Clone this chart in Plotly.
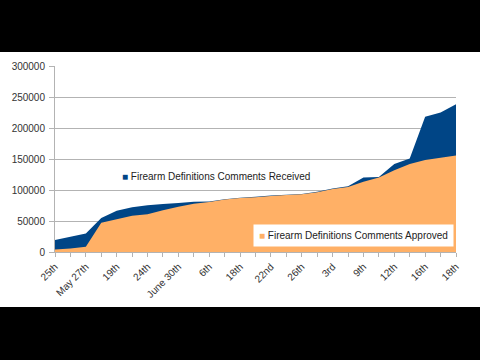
import plotly.graph_objects as go

# 27 reporting points; every other one is labelled on the axis
x_index = list(range(27))
tick_labels = ["25th", "May 27th", "19th", "24th", "June 30th", "6th", "18th",
               "22nd", "26th", "3rd", "9th", "12th", "16th", "18th"]

received = [19500, 24500, 30000, 55000, 66500, 72000, 75300, 77400, 79000,
            81000, 81500, 85000, 87500, 89000, 91000, 92500, 93500, 97000,
            102500, 106000, 120000, 121000, 142000, 151000, 218000, 225000, 238500]
approved = [4000, 5500, 8500, 47000, 53000, 58500, 61000, 67500, 73000,
            78000, 80500, 84500, 87000, 88500, 90500, 92000, 93000, 96500,
            101500, 105000, 113500, 120000, 132000, 142000, 148500, 152000, 155500]

BLUE = "#004586"
ORANGE = "#ffb066"
FONT = "Liberation Sans, Arial, sans-serif"

fig = go.Figure()
fig.add_trace(go.Scatter(x=x_index, y=received, mode="none", fill="tozeroy",
                         fillcolor=BLUE, name="Firearm Definitions Comments Received",
                         showlegend=False))
fig.add_trace(go.Scatter(x=x_index, y=approved, mode="none", fill="tozeroy",
                         fillcolor=ORANGE, name="Firearm Definitions Comments Approved",
                         showlegend=False))

tickvals = x_index
ticktext = [tick_labels[i // 2] if i % 2 == 0 else "" for i in x_index]

L, R, T, B = 51, 24, 66, 108
W, H = 480, 360
pw, ph = W - L - R, H - T - B

def px(X):
    return (X - L) / pw

def py(Y):
    return (H - B - Y) / ph

fig.update_layout(
    width=W, height=H,
    margin=dict(l=L, r=R, t=T, b=B, pad=0),
    paper_bgcolor="white", plot_bgcolor="white",
    font=dict(family=FONT, size=10, color="#333333"),
    xaxis=dict(range=[0, 26], tickvals=tickvals, ticktext=ticktext, tickangle=-45,
               showgrid=False, zeroline=False, showline=True, linecolor="#b3b3b3",
               ticks="outside", ticklen=4, tickcolor="#b3b3b3", fixedrange=True),
    yaxis=dict(range=[0, 300000], dtick=50000, tickformat="d",
               showgrid=True, gridcolor="#b3b3b3", gridwidth=1, zeroline=False,
               showline=True, linecolor="#b3b3b3", ticks="outside", ticklen=5,
               tickcolor="#b3b3b3", ticklabelstandoff=2, layer="below traces",
               fixedrange=True),
    annotations=[
        dict(xref="paper", yref="paper", x=px(115), y=py(176), xanchor="left",
             yanchor="middle", showarrow=False,
             text=f'<span style="color:{BLUE}">■</span> Firearm Definitions Comments Received',
             font=dict(family=FONT, size=10, color="#222222"), bgcolor="white",
             borderpad=3),
        dict(xref="paper", yref="paper", x=px(251), y=py(235), xanchor="left",
             yanchor="middle", showarrow=False,
             text=f'<span style="color:{ORANGE}">■</span> Firearm Definitions Comments Approved',
             font=dict(family=FONT, size=10, color="#222222"), bgcolor="white",
             borderpad=5),
    ],
    shapes=[
        dict(type="rect", xref="paper", yref="paper", x0=px(-5), x1=px(W + 5),
             y0=py(52), y1=py(-5), fillcolor="black", line=dict(width=0), layer="above"),
        dict(type="rect", xref="paper", yref="paper", x0=px(-5), x1=px(W + 5),
             y0=py(H + 5), y1=py(307), fillcolor="black", line=dict(width=0), layer="above"),
    ],
)

fig.write_html("out.html", config={"displayModeBar": False},
               post_script="document.body.style.margin='0';document.body.style.padding='0';")
